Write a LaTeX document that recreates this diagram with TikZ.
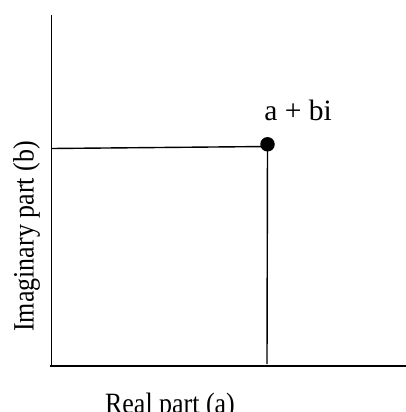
\documentclass[tikz,border=0pt]{standalone}
\usepackage{fontspec}
\setmainfont{Liberation Serif}
\begin{document}
\begin{tikzpicture}[x=1pt,y=-1pt,
  axis/.style={line width=1.8pt},
  guide/.style={line width=1.4pt},
  dot/.style={circle,fill=black,inner sep=0pt,minimum size=14.5pt},
  lbl/.style={inner sep=0pt,font=\fontsize{29.5}{33}\selectfont}]
\useasboundingbox (0,0) rectangle (406,412);
\coordinate (ytop) at (51.5,15);
\coordinate (O) at (51.5,366);
\coordinate (xend) at (406,366);
\coordinate (hl) at (52,148.5);
\coordinate (hr) at (267,146.5);
\coordinate (vb) at (267,364);
\draw[axis] (ytop) -- (O);
\draw[axis] (50,366) -- (xend);
\draw[guide] (hl) -- (hr);
\node[dot] (P) at (267.5,144.3) {};
\draw[guide] (P.center) -- (vb);
\node[lbl,anchor=base] (pl) at (298,120) {a + bi};
\node[lbl,anchor=base,xscale=0.88] (xl) at (170,413) {Real part (a)};
\node[lbl,anchor=base,rotate=90,xscale=0.88] (yl) at (33.5,236.5) {Imaginary part (b)};
\end{tikzpicture}
\end{document}
